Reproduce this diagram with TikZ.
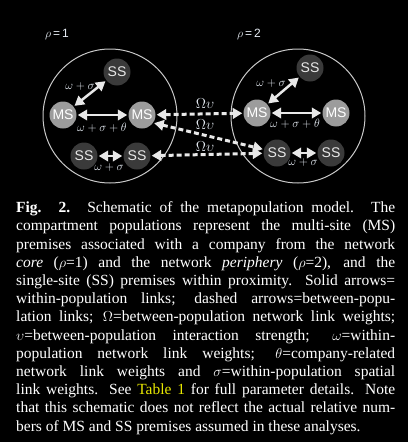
\documentclass[tikz,border=0pt]{standalone}
\usepackage{fontspec}
\setmainfont{Liberation Serif}
\setsansfont{Liberation Sans}
\usepackage{xcolor}
\usetikzlibrary{arrows.meta}
\definecolor{popLine}{HTML}{c8c8c8}
\definecolor{msGrey}{HTML}{9c9c9c}
\definecolor{ssGrey}{HTML}{3a3a3a}
\definecolor{linkWhite}{HTML}{e8e8e8}
\definecolor{lblWhite}{HTML}{e6ecf4}
\definecolor{tabYellow}{HTML}{e8e800}

\begin{document}
\begin{tikzpicture}[x=1pt,y=-1pt]
    \pgfmathsetmacro{\popr}{67}
    \tikzset{
        ms/.style={circle,fill=msGrey,minimum size=27pt,inner sep=0pt,text=white,font=\sffamily\fontsize{14}{14}\selectfont},
        ss/.style={circle,fill=ssGrey,minimum size=27pt,inner sep=0pt,text=linkWhite,font=\sffamily\fontsize{14}{14}\selectfont},
        link/.style={linkWhite,line width=2.5pt,{Triangle[length=9.5pt,width=10.5pt]}-{Triangle[length=9.5pt,width=10.5pt]},shorten <=1pt,shorten >=1pt},
        xlink/.style={link,line width=3pt,dash pattern=on 5pt off 3pt},
        wlabel/.style={text=lblWhite,font=\fontsize{13}{13}\selectfont,inner sep=0pt}
    }
    \fill[black] (0,0) rectangle (408,442);
    \useasboundingbox (0,0) rectangle (408,442);
    \draw[popLine,line width=1pt] (110,116) circle (\popr);
    \draw[popLine,line width=1pt] (298,116) circle (\popr);
    \node[wlabel,font=\sffamily\fontsize{12}{12}\selectfont] (rho1) at (57,35) {$\rho$\,=\,1};
    \node[wlabel,font=\sffamily\fontsize{12}{12}\selectfont] (rho2) at (249,34) {$\rho$\,=\,2};

    \node[ss] (cSSt) at (117,72) {SS};
    \node[ms] (cMSl) at (63,115) {MS};
    \node[ms] (cMSr) at (142,115) {MS};
    \node[ss] (cSSl) at (84,156) {SS};
    \node[ss] (cSSr) at (137,156) {SS};

    \node[ss] (pSSt) at (310,68) {SS};
    \node[ms] (pMSl) at (257,113) {MS};
    \node[ms] (pMSr) at (336,113) {MS};
    \node[ss] (pSSl) at (277,153) {SS};
    \node[ss] (pSSr) at (331,153) {SS};

    \draw[link] (cSSt) -- (cMSl);
    \draw[link] (cMSl) -- (cMSr);
    \draw[link] (cSSl) -- (cSSr);
    \draw[link] (pSSt) -- (pMSl);
    \draw[link] (pMSl) -- (pMSr);
    \draw[link] (pSSl) -- (pSSr);

    \draw[xlink] (cMSr) -- (pMSl);
    \draw[xlink] (cMSr.-35) -- (pSSl.165);
    \draw[xlink] (cSSr) -- (pSSl);

    \node[wlabel] (w1) at (80,86) {$\omega+\sigma$};
    \node[wlabel] (w2) at (102,128) {$\omega+\sigma+\theta$};
    \node[wlabel] (w3) at (109,167) {$\omega+\sigma$};
    \node[wlabel] (w4) at (271,83) {$\omega+\sigma$};
    \node[wlabel] (w5) at (295,124) {$\omega+\sigma+\theta$};
    \node[wlabel] (w6) at (303,162) {$\omega+\sigma$};
    \node[wlabel,font=\fontsize{13.5}{13.5}\selectfont] (x1) at (205,104) {$\Omega\upsilon$};
    \node[wlabel,font=\fontsize{13.5}{13.5}\selectfont] (x2) at (205,125) {$\Omega\upsilon$};
    \node[wlabel,font=\fontsize{13.5}{13.5}\selectfont] (x3) at (205,147) {$\Omega\upsilon$};

    \node[anchor=north west,inner sep=0pt,text width=379pt,align=justify,text=white,font=\fontsize{15.5}{18.2}\selectfont] (cap) at (16,201.5) {%
\textbf{Fig. 2.} Schematic of the metapopulation model. The\linebreak
compartment populations represent the multi-site (MS)\linebreak
premises associated with a company from the network\linebreak
\textit{core} ($\rho$=1) and the network \textit{periphery} ($\rho$=2), and the\linebreak
single-site (SS) premises within proximity. Solid arrows=\linebreak
within-population links; dashed arrows=between-popu-\linebreak
lation links; $\Omega$=between-population network link weights;\linebreak
$\upsilon$=between-population interaction strength; $\omega$=within-\linebreak
population network link weights; $\theta$=company-related\linebreak
network link weights and $\sigma$=within-population spatial\linebreak
link weights. See \textcolor{tabYellow}{Table 1} for full parameter details. Note\linebreak
that this schematic does not reflect the actual relative num-\linebreak
bers of MS and SS premises assumed in these analyses.};
\end{tikzpicture}
\end{document}
